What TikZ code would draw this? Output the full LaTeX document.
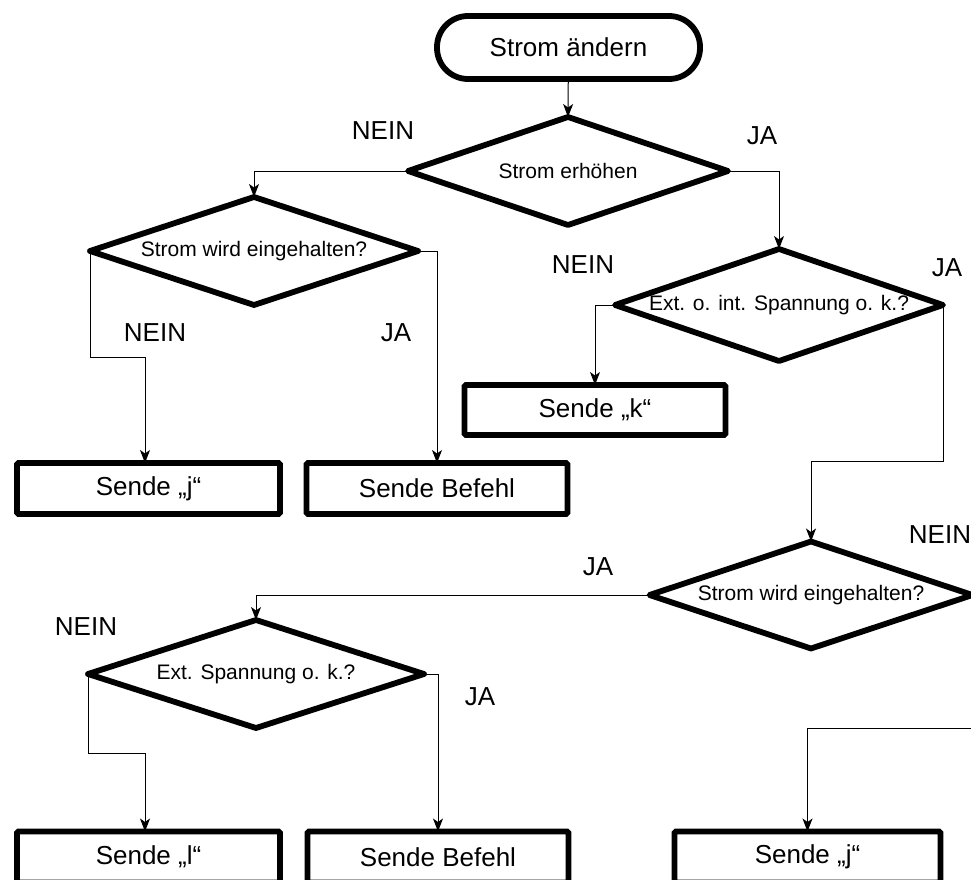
\documentclass[tikz,border=0pt]{standalone}
\usepackage{fontspec}
\setmainfont{Liberation Sans}
\usetikzlibrary{shapes.geometric,arrows.meta}
\begin{document}
\begin{tikzpicture}[x=1pt,y=-1pt,
  thickline/.style={line width=5.8pt},
  terminal/.style={draw,thickline,rounded corners=31pt,minimum width=263pt,minimum height=63pt,
    inner sep=0pt,outer sep=0pt,font=\fontsize{26}{30}\selectfont},
  decision/.style={draw,thickline,diamond,inner sep=0pt,outer sep=0pt,line join=round,
    font=\fontsize{21}{25}\selectfont},
  action/.style={draw,thickline,rounded corners=1.5pt,minimum width=263pt,minimum height=51pt,
    inner sep=0pt,outer sep=0pt,font=\fontsize{26}{30}\selectfont},
  conn/.style={line width=1pt,-{Stealth[length=13pt,width=10pt,inset=3.5pt]}},
  answer/.style={font=\fontsize{26}{30}\selectfont,inner sep=0pt}
]
\useasboundingbox (0,0) rectangle (971,880);
\clip (0,0) rectangle (971,880);

% start
\node[terminal] (start) at (568.5,47.5) {Strom ändern};

% decisions
\node[decision,minimum width=320pt,minimum height=108pt] (d1) at (568,171) {\makebox[0pt]{Strom erhöhen}};
\node[decision,minimum width=328pt,minimum height=108pt] (d2) at (254,251) {\makebox[0pt]{Strom wird eingehalten?}};
\node[decision,minimum width=328pt,minimum height=112pt] (d3) at (779,305) {\makebox[0pt]{Ext. o. int. Spannung o. k.?}};
\node[decision,minimum width=323pt,minimum height=107pt] (d4) at (811,595) {\makebox[0pt]{Strom wird eingehalten?}};
\node[decision,minimum width=336pt,minimum height=108pt] (d5) at (256,674) {\makebox[0pt]{Ext. Spannung o. k.?}};

% actions
\node[action] (sj1) at (148.5,488.5) {Sende „j“};
\node[action,minimum width=261pt] (sb1) at (437,488.5) {Sende Befehl};
\node[action,minimum width=261pt,minimum height=50pt] (sk) at (595,410) {Sende „k“};
\node[action] (sl) at (148.5,857) {Sende „l“};
\node[action,minimum width=261pt] (sb2) at (438,857) {Sende Befehl};
\node[action,minimum width=266pt] (sj2) at (807.5,857) {Sende „j“};

% answers
\node[answer] (n1) at (383,131) {NEIN};
\node[answer] (j1) at (762,136) {JA};
\node[answer] (n2) at (155,333) {NEIN};
\node[answer] (j2) at (396,333) {JA};
\node[answer] (n3) at (583,265) {NEIN};
\node[answer] (j3) at (947,268) {JA};
\node[answer] (n4) at (940,535) {NEIN};
\node[answer] (j4) at (598,567) {JA};
\node[answer] (n5) at (86,627) {NEIN};
\node[answer] (j5) at (480,697) {JA};

% bends of the connectors
\coordinate (b1) at (145,357);
\coordinate (b2) at (811,461);
\coordinate (b3) at (990,728);
\coordinate (b4) at (807.5,728);
\coordinate (b5) at (145,753);

% connectors
\draw[conn] (start) -- (d1.north);
\draw[conn] (d1.west) -| (d2.north);
\draw[conn] (d1.east) -| (d3.north);
\draw[conn] (d2.west) |- (b1) -- (b1 |- sj1.north);
\draw[conn] (d2.east) -| (sb1.north);
\draw[conn] (d3.west) -| (sk.north);
\draw[conn] (d3.east) |- (b2) -- (d4.north);
\draw[conn] (d4.west) -| (d5.north);
\draw[conn] (d4.east) -| (b3) -- (b4) -- (sj2.north);
\draw[conn] (d5.west) |- (b5) -- (b5 |- sl.north);
\draw[conn] (d5.east) -| (sb2.north);
\end{tikzpicture}
\end{document}
